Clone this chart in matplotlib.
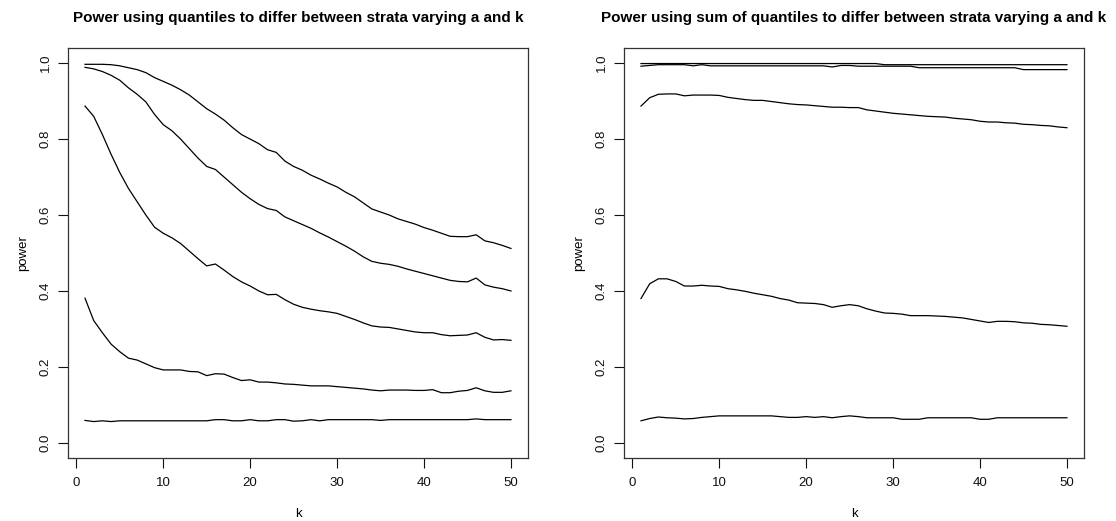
import matplotlib
matplotlib.use("Agg")
import matplotlib.pyplot as plt
import numpy as np

plt.rcParams['font.family'] = ['Liberation Sans', 'DejaVu Sans']

k = list(range(1, 51))

# Left panel: power using quantiles
left_a = [0.997, 0.997, 0.997, 0.996, 0.993, 0.988, 0.983, 0.975, 0.962, 0.952,
          0.942, 0.930, 0.916, 0.898, 0.880, 0.866, 0.850, 0.830, 0.812, 0.800,
          0.788, 0.772, 0.765, 0.742, 0.728, 0.718, 0.705, 0.695, 0.684, 0.674,
          0.660, 0.648, 0.632, 0.616, 0.608, 0.600, 0.590, 0.583, 0.576, 0.567,
          0.560, 0.552, 0.544, 0.543, 0.543, 0.548, 0.532, 0.527, 0.520, 0.512]
left_b = [0.989, 0.985, 0.978, 0.968, 0.955, 0.935, 0.918, 0.898, 0.865, 0.838,
          0.822, 0.800, 0.775, 0.750, 0.728, 0.720, 0.700, 0.680, 0.660, 0.643,
          0.628, 0.617, 0.612, 0.595, 0.585, 0.575, 0.565, 0.553, 0.542, 0.530,
          0.518, 0.505, 0.490, 0.478, 0.473, 0.470, 0.465, 0.458, 0.452, 0.446,
          0.440, 0.434, 0.428, 0.425, 0.424, 0.434, 0.416, 0.410, 0.406, 0.400]
left_c = [0.887, 0.860, 0.812, 0.760, 0.712, 0.670, 0.635, 0.600, 0.568, 0.552,
          0.540, 0.525, 0.505, 0.485, 0.466, 0.471, 0.455, 0.438, 0.424, 0.413,
          0.400, 0.390, 0.391, 0.377, 0.365, 0.357, 0.352, 0.348, 0.345, 0.341,
          0.333, 0.325, 0.316, 0.308, 0.305, 0.304, 0.300, 0.296, 0.292, 0.290,
          0.290, 0.285, 0.282, 0.283, 0.284, 0.290, 0.278, 0.271, 0.272, 0.270]
left_d = [0.381, 0.322, 0.290, 0.260, 0.240, 0.223, 0.218, 0.208, 0.198, 0.192,
          0.192, 0.192, 0.188, 0.187, 0.177, 0.182, 0.181, 0.172, 0.164, 0.166,
          0.160, 0.160, 0.158, 0.155, 0.154, 0.152, 0.150, 0.150, 0.150, 0.148,
          0.146, 0.144, 0.142, 0.139, 0.137, 0.139, 0.139, 0.139, 0.138, 0.138,
          0.140, 0.132, 0.132, 0.136, 0.138, 0.145, 0.137, 0.133, 0.133, 0.137]
left_e = [0.059, 0.056, 0.058, 0.056, 0.058, 0.058, 0.058, 0.058, 0.058, 0.058,
          0.058, 0.058, 0.058, 0.058, 0.058, 0.061, 0.061, 0.058, 0.058, 0.061,
          0.058, 0.058, 0.061, 0.061, 0.057, 0.058, 0.061, 0.058, 0.061, 0.061,
          0.061, 0.061, 0.061, 0.061, 0.059, 0.061, 0.061, 0.061, 0.061, 0.061,
          0.061, 0.061, 0.061, 0.061, 0.061, 0.063, 0.061, 0.061, 0.061, 0.061]

# Right panel: power using sum of quantiles
right_a = [0.999] * 28 + [0.996] * 22
right_b = [0.992, 0.994, 0.996, 0.996, 0.996, 0.996, 0.993, 0.996, 0.993, 0.993,
           0.993, 0.993, 0.993, 0.993, 0.993, 0.993, 0.993, 0.993, 0.993, 0.993,
           0.993, 0.993, 0.990, 0.994, 0.994, 0.992, 0.992, 0.992, 0.992, 0.992,
           0.992, 0.992, 0.988, 0.988, 0.988, 0.988, 0.988, 0.988, 0.988, 0.988,
           0.988, 0.988, 0.988, 0.988, 0.983, 0.983, 0.983, 0.983, 0.983, 0.983]
right_c = [0.887, 0.909, 0.918, 0.919, 0.919, 0.914, 0.916, 0.916, 0.916, 0.915,
           0.910, 0.907, 0.904, 0.902, 0.902, 0.899, 0.896, 0.893, 0.891, 0.890,
           0.888, 0.886, 0.884, 0.884, 0.883, 0.883, 0.877, 0.874, 0.871, 0.868,
           0.866, 0.864, 0.862, 0.860, 0.859, 0.858, 0.855, 0.853, 0.851, 0.847,
           0.845, 0.845, 0.843, 0.842, 0.839, 0.838, 0.836, 0.835, 0.832, 0.830]
right_d = [0.380, 0.419, 0.432, 0.432, 0.425, 0.413, 0.413, 0.415, 0.413, 0.412,
           0.406, 0.403, 0.399, 0.394, 0.390, 0.386, 0.380, 0.376, 0.369, 0.368,
           0.367, 0.364, 0.357, 0.361, 0.364, 0.361, 0.353, 0.347, 0.342, 0.341,
           0.339, 0.335, 0.335, 0.335, 0.334, 0.333, 0.331, 0.329, 0.325, 0.321,
           0.317, 0.320, 0.320, 0.319, 0.316, 0.315, 0.312, 0.311, 0.309, 0.307]
right_e = [0.058, 0.064, 0.068, 0.066, 0.065, 0.063, 0.064, 0.067, 0.069, 0.071,
           0.071, 0.071, 0.071, 0.071, 0.071, 0.071, 0.069, 0.067, 0.067, 0.069,
           0.067, 0.069, 0.066, 0.069, 0.071, 0.069, 0.066, 0.066, 0.066, 0.066,
           0.062, 0.062, 0.062, 0.066, 0.066, 0.066, 0.066, 0.066, 0.066, 0.062,
           0.062, 0.066, 0.066, 0.066, 0.066, 0.066, 0.066, 0.066, 0.066, 0.066]

titles = ["Power using quantiles to differ between strata varying a and k",
          "Power using sum of quantiles to differ between strata varying a and k"]
xticks = [0, 10, 20, 30, 40, 50]
yticks = [0.0, 0.2, 0.4, 0.6, 0.8, 1.0]
ytick_labels = ["0.0", "0.2", "0.4", "0.6", "0.8", "1.0"]

panels = [
    [left_a, left_b, left_c, left_d, left_e],
    [right_a, right_b, right_c, right_d, right_e],
]

fig = plt.figure(figsize=(11.16, 5.21), dpi=100)
positions = [[0.0609, 0.1209, 0.4122, 0.787], [0.5591, 0.1209, 0.4122, 0.787]]

for pos, series, title in zip(positions, panels, titles):
    ax = fig.add_axes(pos)
    for s in series:
        ax.plot(k, s, color='black', lw=0.9)
    ax.set_xlim(-0.96, 51.96)
    ax.set_ylim(-0.04, 1.04)
    ax.set_xticks(xticks)
    ax.set_xticklabels([str(t) for t in xticks])
    ax.set_yticks(yticks)
    ax.set_yticklabels(ytick_labels, rotation=90, va='center')
    ax.tick_params(axis='both', direction='out', length=7, width=0.8,
                   labelsize=9.5, colors='#111111')
    ax.tick_params(axis='x', pad=7)
    ax.tick_params(axis='y', pad=4.5)
    for sp in ax.spines.values():
        sp.set_linewidth(0.9)
        sp.set_color('#333333')
    ax.set_title(title, fontsize=11, fontweight='bold', pad=19)
    ax.set_xlabel('k', fontsize=9.5, labelpad=13)
    ax.set_ylabel('power', fontsize=9.5, labelpad=8)

fig.savefig('out.png', dpi=100)
